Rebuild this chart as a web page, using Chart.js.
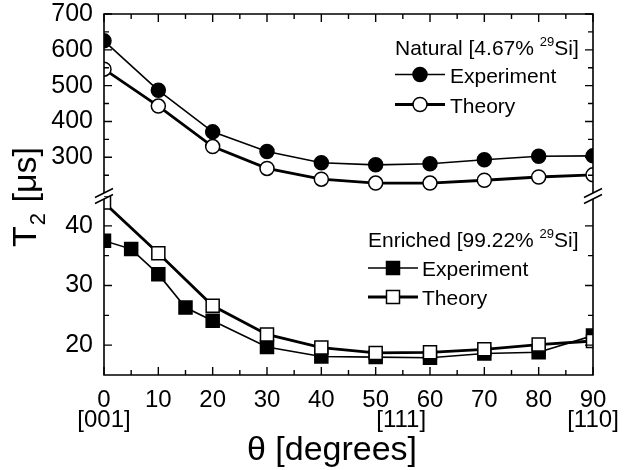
<!DOCTYPE html>
<html>
<head>
<meta charset="utf-8">
<script src="https://cdn.jsdelivr.net/npm/chart.js@4.4.0/dist/chart.umd.min.js"></script>
<style>
  html, body { margin: 0; padding: 0; background: #fff; }
</style>
</head>
<body>
<canvas id="chart" width="630" height="470"></canvas>
<script>
const FONT = "'Liberation Sans', Arial, Helvetica, sans-serif";

// natural Si [4.67% 29Si], T2 in microseconds
const natAngles = [0, 10, 20, 30, 40, 50, 60, 70, 80, 90];
const natExperiment = [625, 487, 371, 316, 285, 279, 282, 293, 303, 304];
const natTheory = [546, 443, 330, 269, 239, 228, 228, 236, 245, 251];

// enriched Si [99.22% 29Si]
const enrExpAngles = [0, 5, 10, 15, 20, 30, 40, 50, 60, 70, 80, 90];
const enrExperiment = [37.5, 36.1, 31.9, 26.3, 24.1, 19.7, 18.1, 18.0, 17.9, 18.6, 18.8, 21.6];
const enrTheoryAngles = [0, 10, 20, 30, 40, 50, 60, 70, 80, 90];
const enrTheory = [43.9, 35.4, 26.6, 21.8, 19.6, 18.7, 18.8, 19.3, 20.1, 20.7];

// axes
const xTicks = [0, 10, 20, 30, 40, 50, 60, 70, 80, 90];
const xMinorTicks = [5, 15, 25, 35, 45, 55, 65, 75, 85];
const xDirAngles = [0, 54.7, 90];
const xDirLabels = ['[001]', '[111]', '[110]'];
const topYTicks = [300, 400, 500, 600, 700];
const topYMinor = [250, 350, 450, 550, 650];
const botYTicks = [20, 30, 40];
const botYMinor = [25, 35];

const pts = (xs, ys) => xs.map((x, i) => ({ x: x, y: ys[i] }));

const lineBase = {
  borderColor: '#000',
  pointBorderColor: '#000',
  pointBorderWidth: 1.5,
  tension: 0,
  fill: false
};

// frame, inward ticks, axis break, legends and axis titles
const decorPlugin = {
  id: 'decor',
  afterDraw(chart) {
    const ctx = chart.ctx;
    const x = chart.scales.x, yt = chart.scales.yTop, yb = chart.scales.yBot;
    const L = x.left, R = x.right, T = yt.top, B = yb.bottom;
    const M = (yt.bottom + yb.top) / 2;
    const gap = 3;

    ctx.save();
    ctx.strokeStyle = '#000';
    ctx.lineWidth = 1.6;
    ctx.beginPath();
    ctx.moveTo(L, M - gap); ctx.lineTo(L, T); ctx.lineTo(R, T); ctx.lineTo(R, M - gap);
    ctx.moveTo(L, M + gap); ctx.lineTo(L, B); ctx.lineTo(R, B); ctx.lineTo(R, M + gap);
    ctx.stroke();

    // ticks
    ctx.lineWidth = 1.4;
    ctx.beginPath();
    const xt = (v, len) => {
      const px = x.getPixelForValue(v);
      ctx.moveTo(px, T); ctx.lineTo(px, T + len);
      ctx.moveTo(px, B); ctx.lineTo(px, B - len);
    };
    xTicks.forEach(v => xt(v, 8));
    xMinorTicks.forEach(v => xt(v, 5));
    const yTick = (scale, v, len) => {
      const py = scale.getPixelForValue(v);
      ctx.moveTo(L, py); ctx.lineTo(L + len, py);
      ctx.moveTo(R, py); ctx.lineTo(R - len, py);
    };
    topYTicks.forEach(v => yTick(yt, v, 8));
    topYMinor.forEach(v => yTick(yt, v, 5));
    botYTicks.forEach(v => yTick(yb, v, 8));
    botYMinor.forEach(v => yTick(yb, v, 5));
    ctx.stroke();

    // break marks
    ctx.lineWidth = 1.5;
    ctx.beginPath();
    [L, R].forEach(bx => {
      [-1, 1].forEach(s => {
        const y0 = M + s * gap;
        ctx.moveTo(bx - 9, y0 + 4.5);
        ctx.lineTo(bx + 9, y0 - 4.5);
      });
    });
    ctx.stroke();

    // legends
    drawLegend(ctx, {
      left: 395, titleY: 55, title: ['Natural [4.67% ', '29', 'Si]'],
      markerX: 420, textX: 450, lineEnd: 445, shape: 'circle',
      rows: [{ label: 'Experiment', y: 74.5, filled: true }, { label: 'Theory', y: 104.5, filled: false }]
    });
    drawLegend(ctx, {
      left: 368, titleY: 247, title: ['Enriched [99.22% ', '29', 'Si]'],
      markerX: 393, textX: 422, lineEnd: 418, shape: 'rect',
      rows: [{ label: 'Experiment', y: 268, filled: true }, { label: 'Theory', y: 297, filled: false }]
    });

    // axis titles
    ctx.fillStyle = '#000';
    ctx.textBaseline = 'alphabetic';
    ctx.font = '34px ' + FONT;
    ctx.textAlign = 'center';
    ctx.fillText('θ [degrees]', 332, 460);

    ctx.textAlign = 'left';
    const big = '34px ' + FONT, small = '22px ' + FONT;
    ctx.font = big;
    const wT = ctx.measureText('T').width;
    const wRest = ctx.measureText(' [μs]').width;
    ctx.font = small;
    const w2 = ctx.measureText('2').width;
    const total = wT + w2 + 2 + wRest;
    ctx.translate(36, 197 + total / 2);
    ctx.rotate(-Math.PI / 2);
    ctx.font = big;
    ctx.fillText('T', 0, 0);
    ctx.font = small;
    ctx.fillText('2', wT + 1, 9);
    ctx.font = big;
    ctx.fillText(' [μs]', wT + w2 + 2, 0);
    ctx.restore();
  }
};

function drawLegend(ctx, o) {
  ctx.save();
  ctx.fillStyle = '#000';
  ctx.strokeStyle = '#000';
  ctx.textAlign = 'left';
  ctx.textBaseline = 'alphabetic';
  const main = '21px ' + FONT, sup = '13px ' + FONT;
  let cx = o.left;
  ctx.font = main;
  ctx.fillText(o.title[0], cx, o.titleY);
  cx += ctx.measureText(o.title[0]).width;
  ctx.font = sup;
  ctx.fillText(o.title[1], cx, o.titleY - 9);
  cx += ctx.measureText(o.title[1]).width;
  ctx.font = main;
  ctx.fillText(o.title[2], cx, o.titleY);

  o.rows.forEach(r => {
    ctx.lineWidth = r.filled ? 1.6 : 2.8;
    ctx.beginPath();
    ctx.moveTo(o.left, r.y);
    ctx.lineTo(o.lineEnd, r.y);
    ctx.stroke();
    ctx.beginPath();
    if (o.shape === 'circle') {
      ctx.arc(o.markerX, r.y, 7, 0, Math.PI * 2);
    } else {
      ctx.rect(o.markerX - 6.5, r.y - 6.5, 13, 13);
    }
    ctx.fillStyle = r.filled ? '#000' : '#fff';
    ctx.fill();
    ctx.lineWidth = 1.5;
    ctx.stroke();
    ctx.fillStyle = '#000';
    ctx.font = main;
    ctx.fillText(r.label, o.textX, r.y + 8);
  });
  ctx.restore();
}

Chart.defaults.color = '#000';
Chart.defaults.font.family = FONT;

const yFit = (scale) => {
  scale.width = 104;
  scale.paddingTop = 0;
  scale.paddingBottom = 0;
};

new Chart(document.getElementById('chart'), {
  type: 'line',
  data: {
    datasets: [
      Object.assign({}, lineBase, {
        label: 'Theory (natural)',
        data: pts(natAngles, natTheory),
        yAxisID: 'yTop',
        borderWidth: 2.8,
        pointStyle: 'circle',
        pointRadius: 7,
        pointBackgroundColor: '#fff',
        order: 0
      }),
      Object.assign({}, lineBase, {
        label: 'Experiment (natural)',
        data: pts(natAngles, natExperiment),
        yAxisID: 'yTop',
        borderWidth: 1.6,
        pointStyle: 'circle',
        pointRadius: 7,
        pointBackgroundColor: '#000',
        order: 1
      }),
      Object.assign({}, lineBase, {
        label: 'Theory (enriched)',
        data: pts(enrTheoryAngles, enrTheory),
        yAxisID: 'yBot',
        borderWidth: 2.8,
        pointStyle: 'rect',
        pointRadius: 9.2,
        pointBackgroundColor: '#fff',
        order: 0
      }),
      Object.assign({}, lineBase, {
        label: 'Experiment (enriched)',
        data: pts(enrExpAngles, enrExperiment),
        yAxisID: 'yBot',
        borderWidth: 1.6,
        pointStyle: 'rect',
        pointRadius: 9.2,
        pointBackgroundColor: '#000',
        order: 1
      })
    ]
  },
  options: {
    responsive: false,
    animation: false,
    devicePixelRatio: 1,
    layout: { padding: { top: 14, right: 37, bottom: 0, left: 0 } },
    plugins: {
      legend: { display: false },
      tooltip: { enabled: false }
    },
    scales: {
      x: {
        type: 'linear',
        min: 0,
        max: 90,
        grid: { display: false, drawTicks: false },
        border: { display: false },
        afterBuildTicks: (scale) => {
          const vals = xTicks.concat(xDirAngles.filter(v => !xTicks.includes(v)));
          vals.sort((a, b) => a - b);
          scale.ticks = vals.map(v => ({ value: v }));
        },
        afterFit: (scale) => {
          scale.height = 95;
          scale.paddingLeft = 0;
          scale.paddingRight = 0;
        },
        ticks: {
          autoSkip: false,
          maxRotation: 0,
          padding: 15,
          font: { size: 24, lineHeight: 0.85 },
          callback: (value) => {
            const main = xTicks.includes(value) ? String(value) : '';
            const k = xDirAngles.indexOf(value);
            return k >= 0 ? [main, xDirLabels[k]] : main;
          }
        }
      },
      yTop: {
        type: 'linear',
        position: 'left',
        stack: 'T2',
        stackWeight: 182,
        weight: 1,
        min: 192,
        max: 700,
        grid: { display: false, drawTicks: false },
        border: { display: false },
        afterBuildTicks: (scale) => { scale.ticks = topYTicks.map(v => ({ value: v })); },
        afterFit: yFit,
        ticks: { autoSkip: false, padding: 11, font: { size: 25 } }
      },
      yBot: {
        type: 'linear',
        position: 'left',
        stack: 'T2',
        stackWeight: 179,
        weight: 0,
        min: 15,
        max: 45,
        grid: { display: false, drawTicks: false },
        border: { display: false },
        afterBuildTicks: (scale) => { scale.ticks = botYTicks.map(v => ({ value: v })); },
        afterFit: yFit,
        ticks: { autoSkip: false, padding: 11, font: { size: 25 } }
      }
    }
  },
  plugins: [decorPlugin]
});
</script>
</body>
</html>
